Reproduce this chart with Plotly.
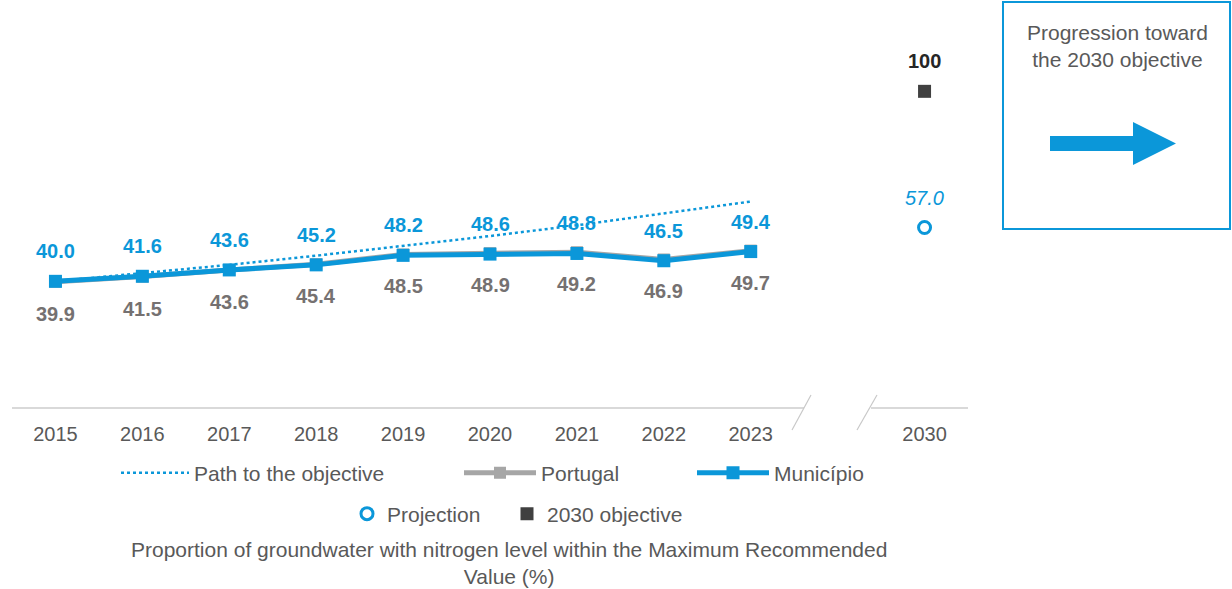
import plotly.graph_objects as go

# ---------------- data ----------------
years = ["2015", "2016", "2017", "2018", "2019", "2020", "2021", "2022", "2023"]
municipio = [40.0, 41.6, 43.6, 45.2, 48.2, 48.6, 48.8, 46.5, 49.4]
portugal = [39.9, 41.5, 43.6, 45.4, 48.5, 48.9, 49.2, 46.9, 49.7]
path_to_objective = [40.0, 42.5, 45.2, 48.1, 51.1, 54.3, 57.7, 61.4, 65.2]
target_year = "2030"
projection_2030 = [57.0]
objective_2030 = [100]
tick_labels = years + [target_year]

# ---------------- style ----------------
BLUE = "#0B97D9"
GREY_LINE = "#A6A6A6"
GREY_TXT = "#595959"
GREY_LBL = "#757171"
DARK = "#404040"
FONT = "Liberation Sans, Arial, sans-serif"

W, H = 1232, 589
PL, PR, PT, PB = 12, 968, 28, 408


def px(x):
    return (x - PL) / (PR - PL)


def py(y):
    return (PB - y) / (PB - PT)


xs = list(range(len(years)))
x_target = len(years) + 1
tick_vals = xs + [x_target]

fig = go.Figure()

fig.add_trace(go.Scatter(
    x=xs, y=path_to_objective, mode="lines", name="Path to the objective",
    line=dict(color=BLUE, width=2.5, dash="dot"), legend="legend",
    hoverinfo="skip"))
fig.add_trace(go.Scatter(
    x=xs, y=portugal, mode="lines+markers", name="Portugal",
    line=dict(color=GREY_LINE, width=5),
    marker=dict(symbol="square", size=12, color=GREY_LINE), legend="legend2"))
fig.add_trace(go.Scatter(
    x=xs, y=municipio, mode="lines+markers", name="Município",
    line=dict(color=BLUE, width=5),
    marker=dict(symbol="square", size=13, color=BLUE), legend="legend3"))
fig.add_trace(go.Scatter(
    x=[x_target], y=projection_2030, mode="markers", name="Projection",
    marker=dict(symbol="circle-open", size=12, color=BLUE, line=dict(width=3)),
    legend="legend4"))
fig.add_trace(go.Scatter(
    x=[x_target], y=objective_2030, mode="markers", name="2030 objective",
    marker=dict(symbol="square", size=13, color=DARK), legend="legend5"))

annotations = []
for i, v in enumerate(municipio):
    annotations.append(dict(x=xs[i], y=v, text=f"{v:.1f}", showarrow=False,
                            yshift=30, font=dict(family=FONT, size=20, color=BLUE, weight="bold")))
for i, v in enumerate(portugal):
    annotations.append(dict(x=xs[i], y=v, text=f"{v:.1f}", showarrow=False,
                            yshift=-32, font=dict(family=FONT, size=20, color=GREY_LBL, weight="bold")))
annotations.append(dict(x=x_target, y=projection_2030[0], text=f"<i>{projection_2030[0]:.1f}</i>",
                        showarrow=False, yshift=30, font=dict(family=FONT, size=20, color=BLUE)))
annotations.append(dict(x=x_target, y=objective_2030[0], text=f"{objective_2030[0]}",
                        showarrow=False, yshift=30, font=dict(family=FONT, size=20, color="#262626", weight="bold")))
annotations.append(dict(xref="paper", yref="paper", x=px(509), y=py(563),
                        text="Proportion of groundwater with nitrogen level within the Maximum Recommended<br>Value (%)",
                        showarrow=False, xanchor="center", yanchor="middle",
                        font=dict(family=FONT, size=21, color=GREY_TXT)))
annotations.append(dict(xref="paper", yref="paper", x=px(1117), y=py(46),
                        text="Progression toward<br>the 2030 objective",
                        showarrow=False, xanchor="center", yanchor="middle",
                        font=dict(family=FONT, size=21, color=GREY_TXT)))

axis_col = "#D9D9D9"
shapes = [
    dict(type="line", xref="paper", yref="paper", x0=px(12), x1=px(804), y0=0, y1=0,
         line=dict(color=axis_col, width=2)),
    dict(type="line", xref="paper", yref="paper", x0=px(871), x1=px(968), y0=0, y1=0,
         line=dict(color=axis_col, width=2)),
    dict(type="line", xref="paper", yref="paper", x0=px(792), x1=px(811), y0=py(430), y1=py(395),
         line=dict(color="#C8C8C8", width=1.2)),
    dict(type="line", xref="paper", yref="paper", x0=px(857), x1=px(877), y0=py(430), y1=py(395),
         line=dict(color="#C8C8C8", width=1.2)),
    dict(type="rect", xref="paper", yref="paper", x0=px(1003), x1=px(1230), y0=py(2), y1=py(229),
         line=dict(color=BLUE, width=2), fillcolor="rgba(0,0,0,0)"),
]
arrow_pts = [(1050, 136), (1133, 136), (1133, 122), (1176, 143.5), (1133, 165), (1133, 151), (1050, 151)]
path = "M " + " L ".join(f"{px(a):.5f},{py(b):.5f}" for a, b in arrow_pts) + " Z"
shapes.append(dict(type="path", xref="paper", yref="paper", path=path,
                   fillcolor=BLUE, line=dict(width=0)))

leg_font = dict(family=FONT, size=21, color=GREY_TXT)


def leg(xp, yp, iw):
    return dict(orientation="h", x=px(xp), y=py(yp), xanchor="left", yanchor="middle",
                font=leg_font, bgcolor="rgba(0,0,0,0)", itemwidth=iw)


fig.update_layout(
    width=W, height=H,
    margin=dict(l=PL, r=W - PR, t=PT, b=H - PB),
    paper_bgcolor="white", plot_bgcolor="white",
    font=dict(family=FONT, color=GREY_TXT),
    xaxis=dict(range=[-0.5, 10.5], tickmode="array", tickvals=tick_vals, ticktext=tick_labels,
               showgrid=False, zeroline=False, showline=False, ticks="",
               tickfont=dict(family=FONT, size=20, color=GREY_TXT), ticklabelstandoff=12,
               fixedrange=True),
    yaxis=dict(range=[0, 120], visible=False, showgrid=False, zeroline=False, fixedrange=True),
    showlegend=True,
    legend=leg(116, 473, 68),
    legend2=leg(459, 473, 72),
    legend3=leg(692, 473, 72),
    legend4=leg(347, 514, 30),
    legend5=leg(507, 514, 30),
    annotations=annotations,
    shapes=shapes,
)

fig.write_html("out.html",
               config={"displayModeBar": False},
               post_script="document.body.style.margin='0';document.body.style.padding='0';")
